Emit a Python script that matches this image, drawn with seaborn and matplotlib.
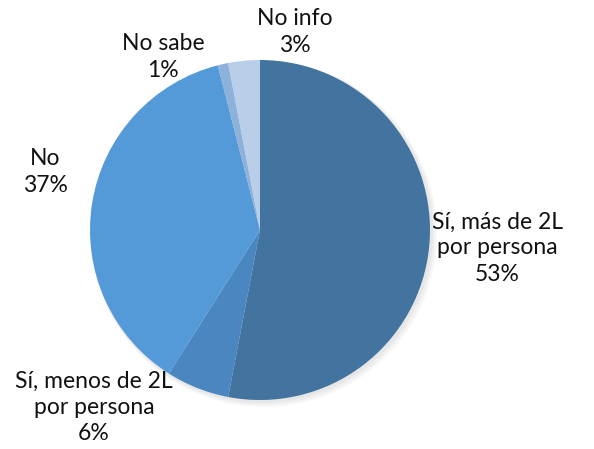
import matplotlib
matplotlib.use("Agg")
import matplotlib.pyplot as plt
import seaborn as sns

categories = ["Sí, más de 2L\npor persona", "Sí, menos de 2L\npor persona", "No", "No sabe", "No info"]
values = [53, 6, 37, 1, 3]
colors = ["#43739F", "#4A86BF", "#559AD8", "#8CB1DB", "#B9CEE9"]
label_pos = [(497, 201), (94, 42), (45, 277), (163, 392), (295, 417)]

sns.set_theme(style="white")
plt.rcParams['font.family'] = ['Lato', 'DejaVu Sans']

fig = plt.figure(figsize=(5.94, 4.49), dpi=100)
ax = fig.add_axes([0, 0, 1, 1])
ax.set_xlim(0, 594)
ax.set_ylim(0, 449)
ax.set_aspect("equal")
ax.axis("off")

# soft shadow
for i, a in enumerate([0.03, 0.03, 0.03]):
    ax.add_patch(plt.Circle((262 + i, 217 - i), 171 + i, color="black", alpha=a, lw=0))

ax.pie(values, colors=colors, startangle=90, counterclock=False,
       center=(260, 219), radius=170, frame=True,
       wedgeprops=dict(linewidth=0))
ax.set_xlim(0, 594)
ax.set_ylim(0, 449)
ax.axis("off")

for cat, v, (x, y) in zip(categories, values, label_pos):
    ax.text(x, y, f"{cat}\n{v}%", ha="center", va="center", fontsize=16.5,
            color="#111111", linespacing=1.3)

fig.savefig("out.png", dpi=100)
